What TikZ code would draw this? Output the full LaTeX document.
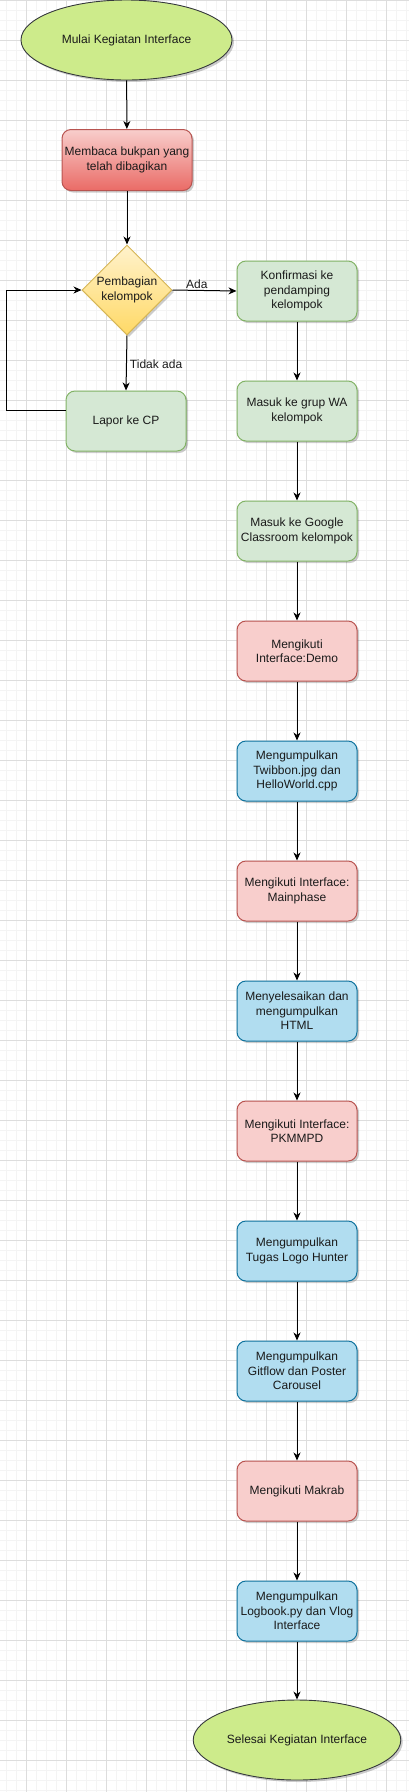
\documentclass[tikz,border=0pt]{standalone}
\usepackage{fontspec}
\setmainfont{Liberation Sans}
\usetikzlibrary{shapes.geometric,arrows.meta,shadows}

\definecolor{gridmajor}{HTML}{DDDDDD}
\definecolor{gridminor}{HTML}{F4F4F4}
\definecolor{lime}{HTML}{CDEB8B}
\definecolor{limeline}{HTML}{36393D}
\definecolor{greenfill}{HTML}{D5E8D4}
\definecolor{greenline}{HTML}{82B366}
\definecolor{redfill}{HTML}{F8CECC}
\definecolor{redline}{HTML}{B85450}
\definecolor{reddark}{HTML}{EA6B66}
\definecolor{bluefill}{HTML}{B1DDF0}
\definecolor{blueline}{HTML}{10739E}
\definecolor{yellowtop}{HTML}{FFF2CC}
\definecolor{yellowbot}{HTML}{FFD966}
\definecolor{yellowline}{HTML}{D6B656}
\definecolor{txt}{HTML}{1A1A1A}

\begin{document}
\begin{tikzpicture}[x=1pt,y=-1pt]
	\tikzset{
		every node/.style={font=\fontsize{12}{14.4}\selectfont, text=txt, align=center},
		shade/.style={drop shadow={shadow xshift=2pt, shadow yshift=-2pt, opacity=0.2, fill=black}},
		terminal/.style={shape=ellipse, draw=limeline, line width=0.9pt, fill=lime, minimum height=80pt, shade},
		box/.style={shape=rectangle, rounded corners=9pt, line width=1pt, minimum width=120pt, minimum height=60pt, inner sep=2pt, shade},
		greenbox/.style={box, draw=greenline, fill=greenfill},
		redbox/.style={box, draw=redline, fill=redfill},
		bluebox/.style={box, draw=blueline, fill=bluefill},
		flow/.style={draw=black, line width=1pt, -{Stealth[length=8pt,width=7pt,inset=2.5pt]}}
	}
	\useasboundingbox (0,0) rectangle (408,1792);
	\draw[gridminor, line width=0.5pt, xshift=6.67pt] (-10,0) grid[step=10pt] (410,1792);
	\draw[gridmajor, line width=0.6pt, xshift=26.67pt] (-30,0) grid[step=40pt] (390,1792);

	\node[terminal, minimum width=211pt] (start) at (126.5,40) {Mulai Kegiatan Interface};
	\node[box, draw=redline, top color=redfill, bottom color=reddark, minimum width=130pt, minimum height=61pt] (baca) at (127,160) {Membaca bukpan yang\\telah dibagikan};
	\node[shape=diamond, draw=yellowline, line width=1pt, top color=yellowtop, bottom color=yellowbot, minimum width=90pt, minimum height=90pt, inner sep=0pt, shade] (bagi) at (127,290) {Pembagian\\kelompok};
	\node[greenbox] (lapor) at (126,421) {Lapor ke CP};

	\node[greenbox] (konf) at (297,291) {Konfirmasi ke\\pendamping\\kelompok};
	\node[greenbox] (wa) at (297,411) {Masuk ke grup WA\\kelompok};
	\node[greenbox] (gc) at (297,531) {Masuk ke Google\\Classroom kelompok};
	\node[redbox] (demo) at (297,651) {Mengikuti\\Interface:Demo};
	\node[bluebox] (twb) at (297,771) {Mengumpulkan\\Twibbon.jpg dan\\HelloWorld.cpp};
	\node[redbox] (main) at (297,891) {Mengikuti Interface:\\Mainphase};
	\node[bluebox] (html) at (297,1011) {Menyelesaikan dan\\mengumpulkan\\HTML};
	\node[redbox] (pkm) at (297,1131) {Mengikuti Interface:\\PKMMPD};
	\node[bluebox] (logo) at (297,1251) {Mengumpulkan\\Tugas Logo Hunter};
	\node[bluebox] (git) at (297,1371) {Mengumpulkan\\Gitflow dan Poster\\Carousel};
	\node[redbox] (makrab) at (297,1491) {Mengikuti Makrab};
	\node[bluebox] (vlog) at (297,1611) {Mengumpulkan\\Logbook.py dan Vlog\\Interface};
	\node[terminal, minimum width=200pt] (end) at (297,1740) {Selesai Kegiatan Interface};

	\path (start) edge[flow] (baca);
	\path (baca) edge[flow] (bagi);
	\path (bagi.east) edge[flow] node[above, pos=0.38, inner sep=1pt] {Ada} (konf.west);
	\path (bagi.south) edge[flow] node[right, pos=0.53, inner sep=3pt] {Tidak ada} (lapor.north);
	\draw[flow] ([yshift=11pt]lapor.west) -- ++(-59,0) |- (bagi.west);

	\path (konf) edge[flow] (wa);
	\path (wa) edge[flow] (gc);
	\path (gc) edge[flow] (demo);
	\path (demo) edge[flow] (twb);
	\path (twb) edge[flow] (main);
	\path (main) edge[flow] (html);
	\path (html) edge[flow] (pkm);
	\path (pkm) edge[flow] (logo);
	\path (logo) edge[flow] (git);
	\path (git) edge[flow] (makrab);
	\path (makrab) edge[flow] (vlog);
	\path (vlog) edge[flow] (end);
\end{tikzpicture}
\end{document}
